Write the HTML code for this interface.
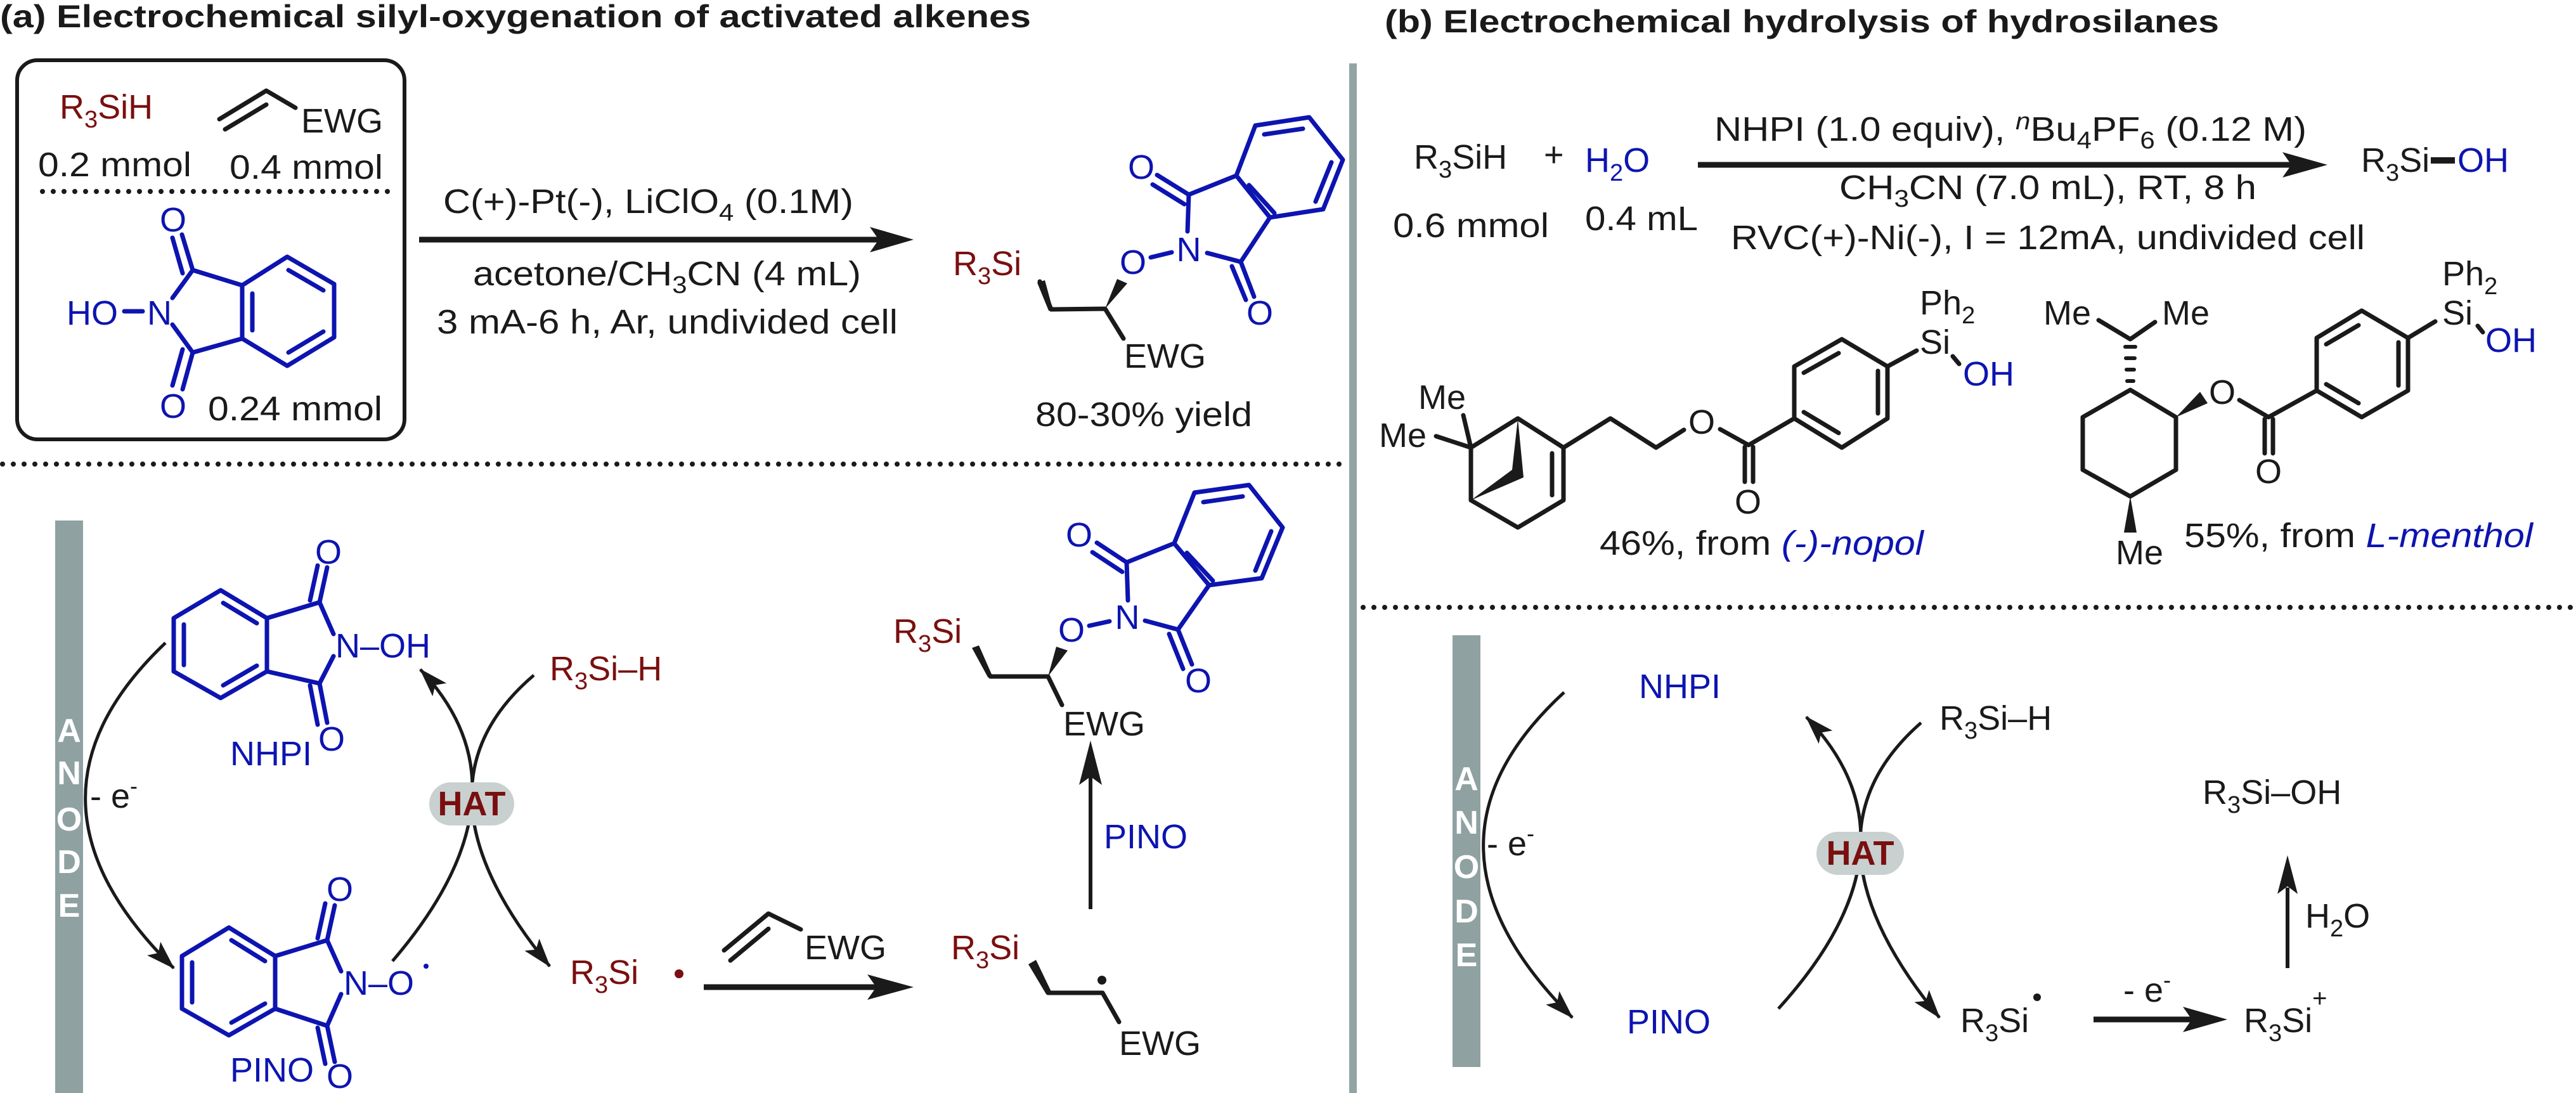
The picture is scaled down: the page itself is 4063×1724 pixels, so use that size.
<!DOCTYPE html>
<html><head><meta charset="utf-8"><style>
html,body{margin:0;padding:0;background:#fff;}
svg{display:block;}
text{font-family:"Liberation Sans",Arial,sans-serif;font-size:54px;fill:#1a1a1a;}
.b{fill:#0d14b0;}
.r{fill:#7a0f0f;}
.t{font-weight:bold;font-size:50px;}
.blue{stroke:#0d14b0;stroke-width:7;fill:none;stroke-linecap:round;stroke-linejoin:round;}
.blk{stroke:#1a1a1a;stroke-width:7;fill:none;stroke-linecap:round;stroke-linejoin:round;}
.arc{stroke:#1a1a1a;stroke-width:5;fill:none;}
.dot{stroke:#1a1a1a;stroke-width:8;stroke-linecap:round;stroke-dasharray:0 17;fill:none;}
.an{font-weight:bold;fill:#fff;font-size:52px;text-anchor:middle;}
</style></head><body>
<svg width="4063" height="1724" viewBox="0 0 4063 1724" xmlns="http://www.w3.org/2000/svg">
<defs>
<marker id="ah" markerUnits="userSpaceOnUse" markerWidth="50" markerHeight="34" refX="44" refY="15" orient="auto">
<path d="M0,0 L46,15 L0,30 L10,15 z" fill="#1a1a1a"/>
</marker>
</defs>

<text x="0" y="43" class="t" textLength="1626" lengthAdjust="spacingAndGlyphs">(a) Electrochemical silyl-oxygenation of activated alkenes</text>
<text x="2184" y="51" class="t" textLength="1316" lengthAdjust="spacingAndGlyphs">(b) Electrochemical hydrolysis of hydrosilanes</text>

<rect x="2128" y="100" width="12" height="1624" fill="#93a4a4"/>

<rect x="27" y="95" width="611" height="598" rx="32" fill="none" stroke="#1a1a1a" stroke-width="6"/>
<text x="94" y="187" class="r">R<tspan font-size="38" dy="14">3</tspan><tspan dy="-14">SiH</tspan></text>
<path class="blk" d="M346,188 L420,143 L466,170"/>
<path class="blk" d="M355,204 L420,165"/>
<text x="475" y="209">EWG</text>
<text x="60" y="278" textLength="242" lengthAdjust="spacingAndGlyphs">0.2 mmol</text>
<text x="362" y="282" textLength="242" lengthAdjust="spacingAndGlyphs">0.4 mmol</text>
<line class="dot" x1="67" y1="302" x2="625" y2="302"/>
<g class="blue">
<path d="M304,426 L382,450 L453,405 L527,448 L527,532 L453,577 L382,534 L304,556"/>
<path d="M382,450 L382,534"/>
<path d="M398,463 L398,521"/>
<path d="M455,426 L510,458"/>
<path d="M455,556 L510,523"/>
<path d="M304,426 L272,470"/>
<path d="M304,556 L272,512"/>
<path d="M304,426 L287,370 M288,431 L272,375"/>
<path d="M304,556 L288,614 M288,551 L272,608"/>
<path d="M196,491 L225,491"/>
</g>
<text x="273" y="365" class="b" text-anchor="middle">O</text>
<text x="273" y="659" class="b" text-anchor="middle">O</text>
<text x="105" y="512" class="b">HO</text>
<text x="232" y="512" class="b">N</text>
<text x="328" y="663" textLength="275" lengthAdjust="spacingAndGlyphs">0.24 mmol</text>

<line x1="661" y1="378" x2="1390" y2="378" stroke="#1a1a1a" stroke-width="9"/>
<path d="M1441,378 L1372,358 L1386,378 L1372,398 z" fill="#1a1a1a"/>
<text x="699" y="336" textLength="647" lengthAdjust="spacingAndGlyphs">C(+)-Pt(-), LiClO<tspan font-size="38" dy="12">4</tspan><tspan dy="-12"> (0.1M)</tspan></text>
<text x="746" y="450" textLength="612" lengthAdjust="spacingAndGlyphs">acetone/CH<tspan font-size="38" dy="12">3</tspan><tspan dy="-12">CN (4 mL)</tspan></text>
<text x="689" y="526" textLength="727" lengthAdjust="spacingAndGlyphs">3 mA-6 h, Ar, undivided cell</text>

<text x="1503" y="434" class="r">R<tspan font-size="38" dy="14">3</tspan><tspan dy="-14">Si</tspan></text>
<path class="blk" d="M1640,444 L1658,488 L1743,487 L1772,534"/>
<path d="M1636,446 L1648,442 L1661,490 L1654,490 z" fill="#1a1a1a"/>
<path d="M1743,487 L1762,440 L1778,447 z" fill="#1a1a1a"/>
<text x="1773" y="580">EWG</text>
<text x="1787" y="432" class="b" text-anchor="middle">O</text>
<text x="1875" y="412" class="b" text-anchor="middle">N</text>
<g class="blue">
<path d="M1815,406 L1848,398"/>
<path d="M1873,365 L1875,307 L1950,277 L1980,198 L2065,185 L2118,252 L2087,330 L2003,343 L1957,413 L1904,399"/>
<path d="M1950,277 L2003,343"/>
<path d="M1970,292 L2010,336 M1994,212 L2055,203 M2100,256 L2075,318"/>
<path d="M1875,307 L1825,276 M1868,322 L1818,291"/>
<path d="M1957,413 L1978,468 M1943,420 L1965,473"/>
</g>
<text x="1800" y="282" class="b" text-anchor="middle">O</text>
<text x="1987" y="512" class="b" text-anchor="middle">O</text>
<text x="1633" y="672" textLength="342" lengthAdjust="spacingAndGlyphs">80-30% yield</text>

<line class="dot" x1="4" y1="732" x2="2120" y2="732"/>
<line class="dot" x1="2150" y1="958" x2="4060" y2="958"/>

<rect x="87" y="821" width="44" height="903" fill="#8fa1a1"/>
<text x="109" y="1170" class="an">A</text>
<text x="109" y="1237" class="an">N</text>
<text x="109" y="1310" class="an">O</text>
<text x="109" y="1377" class="an">D</text>
<text x="109" y="1446" class="an">E</text>
<path class="arc" d="M261,1014 Q2,1260 274,1527" marker-end="url(#ah)"/>
<text x="142" y="1274">- e<tspan font-size="36" dy="-22">-</tspan></text>

<g class="blue">
<path d="M348,931 L421,975 L421,1059 L348,1101 L274,1059 L274,975 Z"/>
<path d="M352,951 L405,983 M290,985 L290,1049 M352,1081 L405,1050"/>
<path d="M421,975 L504,950 L526,1000 M421,1059 L504,1078 L526,1035"/>
<path d="M504,950 L516,895 M489,947 L501,892"/>
<path d="M504,1078 L516,1140 M489,1081 L501,1143"/>
</g>
<text x="518" y="889" class="b" text-anchor="middle">O</text>
<text x="523" y="1184" class="b" text-anchor="middle">O</text>
<text x="529" y="1037" class="b">N–OH</text>
<text x="363" y="1207" class="b">NHPI</text>

<g class="blue">
<path d="M361,1463 L434,1508 L434,1591 L361,1633 L287,1591 L287,1508 Z"/>
<path d="M365,1483 L418,1516 M303,1518 L303,1581 M365,1613 L418,1583"/>
<path d="M434,1508 L516,1483 L538,1532 M434,1591 L516,1618 L538,1568"/>
<path d="M516,1483 L528,1428 M501,1480 L513,1425"/>
<path d="M516,1618 L528,1675 M501,1621 L513,1678"/>
</g>
<text x="536" y="1421" class="b" text-anchor="middle">O</text>
<text x="536" y="1716" class="b" text-anchor="middle">O</text>
<text x="542" y="1569" class="b">N–O</text>
<circle cx="672" cy="1524" r="4" fill="#0d14b0"/>
<text x="363" y="1706" class="b">PINO</text>

<path class="arc" d="M619,1516 Q847,1250 663,1056" marker-end="url(#ah)"/>
<path class="arc" d="M842,1065 Q634,1242 867,1524" marker-end="url(#ah)"/>
<rect x="677" y="1234" width="134" height="68" rx="34" fill="#c8d0d0"/>
<text x="744" y="1286" text-anchor="middle" font-weight="bold" class="r" font-size="50">HAT</text>
<text x="867" y="1073" class="r">R<tspan font-size="38" dy="14">3</tspan><tspan dy="-14">Si–H</tspan></text>
<text x="899" y="1552" class="r">R<tspan font-size="38" dy="14">3</tspan><tspan dy="-14">Si</tspan></text>
<circle cx="1071" cy="1536" r="7" fill="#7a0f0f"/>
<path class="blk" d="M1142,1499 L1212,1441 L1263,1466"/>
<path class="blk" d="M1152,1515 L1212,1465"/>
<text x="1269" y="1513">EWG</text>
<line x1="1110" y1="1557" x2="1390" y2="1557" stroke="#1a1a1a" stroke-width="9"/>
<path d="M1441,1557 L1368,1537 L1382,1557 L1368,1577 z" fill="#1a1a1a"/>
<text x="1500" y="1513" class="r">R<tspan font-size="38" dy="14">3</tspan><tspan dy="-14">Si</tspan></text>
<path d="M1622,1521 L1634,1514 L1659,1566 L1650,1568 z" fill="#1a1a1a"/>
<path class="blk" d="M1653,1566 L1739,1566 L1765,1612"/>
<circle cx="1738" cy="1546" r="7" fill="#1a1a1a"/>
<text x="1765" y="1664">EWG</text>
<line x1="1720" y1="1434" x2="1720" y2="1220" stroke="#1a1a1a" stroke-width="6"/>
<path d="M1720,1168 L1702,1238 L1720,1225 L1738,1238 z" fill="#1a1a1a"/>
<text x="1741" y="1338" class="b">PINO</text>
<text x="1409" y="1014" class="r">R<tspan font-size="38" dy="14">3</tspan><tspan dy="-14">Si</tspan></text>
<path d="M1533,1022 L1544,1018 L1566,1068 L1558,1068 z" fill="#1a1a1a"/>
<path class="blk" d="M1562,1067 L1653,1067 L1675,1112"/>
<path d="M1653,1067 L1666,1020 L1684,1026 z" fill="#1a1a1a"/>
<text x="1677" y="1160">EWG</text>
<text x="1690" y="1012" class="b" text-anchor="middle">O</text>
<text x="1778" y="992" class="b" text-anchor="middle">N</text>
<g class="blue">
<path d="M1718,987 L1750,980"/>
<path d="M1779,947 L1777,887 L1852,857 L1884,777 L1970,765 L2023,832 L1990,912 L1907,923 L1858,993 L1806,979"/>
<path d="M1852,857 L1907,923"/>
<path d="M1872,872 L1913,916 M1898,792 L1960,783 M2005,838 L1980,900"/>
<path d="M1777,887 L1730,856 M1770,902 L1723,871"/>
<path d="M1858,993 L1880,1048 M1844,1000 L1866,1055"/>
</g>
<text x="1702" y="862" class="b" text-anchor="middle">O</text>
<text x="1890" y="1092" class="b" text-anchor="middle">O</text>

<text x="2230" y="266">R<tspan font-size="38" dy="14">3</tspan><tspan dy="-14">SiH</tspan></text>
<text x="2435" y="262">+</text>
<text x="2500" y="271" class="b">H<tspan font-size="38" dy="14">2</tspan><tspan dy="-14">O</tspan></text>
<text x="2197" y="374" textLength="246" lengthAdjust="spacingAndGlyphs">0.6 mmol</text>
<text x="2500" y="363" textLength="178" lengthAdjust="spacingAndGlyphs">0.4 mL</text>
<line x1="2678" y1="260" x2="3615" y2="260" stroke="#1a1a1a" stroke-width="9"/>
<path d="M3671,260 L3600,240 L3614,260 L3600,280 z" fill="#1a1a1a"/>
<text x="2704" y="222" textLength="934" lengthAdjust="spacingAndGlyphs">NHPI (1.0 equiv), <tspan font-style="italic" font-size="38" dy="-18">n</tspan><tspan dy="18">Bu</tspan><tspan font-size="38" dy="12">4</tspan><tspan dy="-12">PF</tspan><tspan font-size="38" dy="12">6</tspan><tspan dy="-12"> (0.12 M)</tspan></text>
<text x="2901" y="314" textLength="658" lengthAdjust="spacingAndGlyphs">CH<tspan font-size="38" dy="12">3</tspan><tspan dy="-12">CN (7.0 mL), RT, 8 h</tspan></text>
<text x="2730" y="393" textLength="1000" lengthAdjust="spacingAndGlyphs">RVC(+)-Ni(-), I = 12mA, undivided cell</text>
<text x="3724" y="271">R<tspan font-size="38" dy="14">3</tspan><tspan dy="-14">Si</tspan></text>
<line x1="3834" y1="253" x2="3872" y2="253" stroke="#1a1a1a" stroke-width="10"/>
<text x="3876" y="271" class="b">OH</text>

<g class="blk">
<path d="M2320,706 L2394,660 L2466,706 L2466,789 L2394,832 L2320,789 Z"/>
<path d="M2320,706 L2308,655 M2320,706 L2265,688"/>
<path d="M2448,715 L2448,781"/>
<path d="M2466,706 L2540,660 L2612,706 L2656,678"/>
<path d="M2713,677 L2758,702 L2830,660 M2752,705 L2752,760 M2765,705 L2765,760"/>
<path d="M2830,660 L2830,578 L2905,535 L2977,578 L2977,660 L2905,706 Z"/>
<path d="M2845,588 L2900,557 M2962,585 L2962,652 M2845,650 L2900,683"/>
<path d="M2977,578 L3023,553"/>
</g>
<path d="M2394,660 L2385,741 L2403,753 Z M2320,789 L2385,741 L2403,753 Z" fill="#1a1a1a"/>
<text x="2237" y="645">Me</text>
<text x="2175" y="705">Me</text>
<text x="2684" y="684" text-anchor="middle">O</text>
<text x="2757" y="810" text-anchor="middle">O</text>
<text x="3028" y="496">Ph<tspan font-size="38" dy="14">2</tspan></text>
<text x="3028" y="558">Si</text>
<path class="blk" d="M3080,562 L3090,574" stroke-width="5"/>
<text x="3096" y="608" class="b">OH</text>
<text x="2523" y="875" textLength="511" lengthAdjust="spacingAndGlyphs">46%, from <tspan class="b" font-style="italic">(-)-nopol</tspan></text>

<g class="blk">
<path d="M3360,615 L3432,658 L3432,741 L3360,783 L3285,741 L3285,658 Z"/>
<path d="M3310,505 L3360,535 L3399,508"/>
<path d="M3532,631 L3578,658 L3654,616 M3572,661 L3572,715 M3585,661 L3585,715"/>
<path d="M3654,616 L3654,533 L3725,490 L3798,533 L3798,616 L3725,658 Z"/>
<path d="M3669,543 L3720,513 M3783,540 L3783,608 M3669,606 L3720,636"/>
<path d="M3798,533 L3841,507"/>
</g>
<g stroke="#1a1a1a" stroke-linecap="round">
<line x1="3352" y1="547" x2="3368" y2="547" stroke-width="6"/>
<line x1="3353" y1="565" x2="3367" y2="565" stroke-width="6"/>
<line x1="3354" y1="583" x2="3366" y2="583" stroke-width="6"/>
<line x1="3355" y1="601" x2="3365" y2="601" stroke-width="6"/>
</g>
<path d="M3432,658 L3470,618 L3482,636 Z" fill="#1a1a1a"/>
<path d="M3360,783 L3350,840 L3370,840 Z" fill="#1a1a1a"/>
<text x="3223" y="512">Me</text>
<text x="3410" y="512">Me</text>
<text x="3505" y="637" text-anchor="middle">O</text>
<text x="3578" y="762" text-anchor="middle">O</text>
<text x="3337" y="890">Me</text>
<text x="3852" y="450">Ph<tspan font-size="38" dy="14">2</tspan></text>
<text x="3852" y="512">Si</text>
<path class="blk" d="M3908,514 L3916,524" stroke-width="5"/>
<text x="3920" y="555" class="b">OH</text>
<text x="3445" y="863" textLength="550" lengthAdjust="spacingAndGlyphs">55%, from <tspan class="b" font-style="italic">L-menthol</tspan></text>

<rect x="2291" y="1002" width="44" height="681" fill="#8fa1a1"/>
<text x="2313" y="1246" class="an">A</text>
<text x="2313" y="1315" class="an">N</text>
<text x="2313" y="1385" class="an">O</text>
<text x="2313" y="1455" class="an">D</text>
<text x="2313" y="1524" class="an">E</text>
<path class="arc" d="M2467,1092 Q2206,1332 2480,1605" marker-end="url(#ah)"/>
<text x="2345" y="1349">- e<tspan font-size="36" dy="-22">-</tspan></text>
<text x="2585" y="1101" class="b">NHPI</text>
<text x="2566" y="1630" class="b">PINO</text>
<path class="arc" d="M2805,1591 Q3041,1331 2849,1131" marker-end="url(#ah)"/>
<path class="arc" d="M3030,1140 Q2824,1320 3059,1605" marker-end="url(#ah)"/>
<rect x="2865" y="1312" width="138" height="68" rx="34" fill="#c8d0d0"/>
<text x="2934" y="1364" text-anchor="middle" font-weight="bold" class="r" font-size="50">HAT</text>
<text x="3059" y="1151">R<tspan font-size="38" dy="14">3</tspan><tspan dy="-14">Si–H</tspan></text>
<text x="3474" y="1268">R<tspan font-size="38" dy="14">3</tspan><tspan dy="-14">Si–OH</tspan></text>
<text x="3092" y="1628">R<tspan font-size="38" dy="14">3</tspan><tspan dy="-14">Si</tspan></text>
<circle cx="3213" cy="1573" r="6" fill="#1a1a1a"/>
<line x1="3302" y1="1608" x2="3460" y2="1608" stroke="#1a1a1a" stroke-width="9"/>
<path d="M3513,1608 L3443,1588 L3457,1608 L3443,1628 z" fill="#1a1a1a"/>
<text x="3349" y="1580">- e<tspan font-size="36" dy="-22">-</tspan></text>
<text x="3539" y="1628">R<tspan font-size="38" dy="14">3</tspan><tspan dy="-14">Si</tspan><tspan font-size="40" dy="-40">+</tspan></text>
<line x1="3608" y1="1527" x2="3608" y2="1400" stroke="#1a1a1a" stroke-width="6"/>
<path d="M3608,1349 L3592,1410 L3608,1398 L3624,1410 z" fill="#1a1a1a"/>
<text x="3636" y="1463">H<tspan font-size="38" dy="14">2</tspan><tspan dy="-14">O</tspan></text>
</svg>
</body></html>
